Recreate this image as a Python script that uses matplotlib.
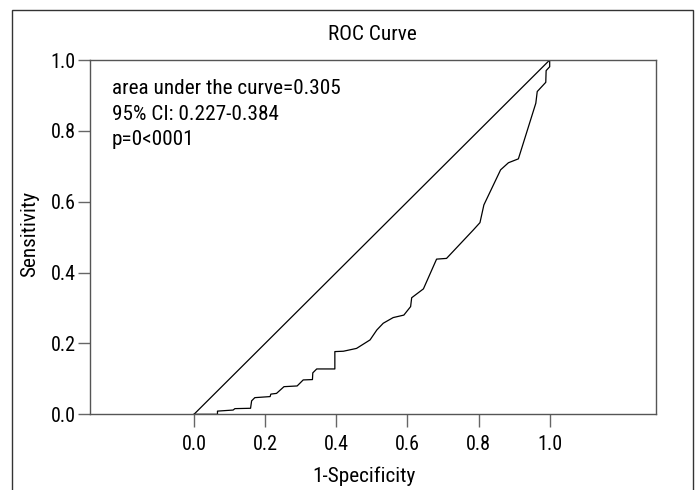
import matplotlib
matplotlib.use("Agg")
import matplotlib.pyplot as plt
from matplotlib.patches import Rectangle

plt.rcParams['font.family'] = ['Roboto Condensed', 'Archivo Narrow', 'DejaVu Sans']

# ROC curve data (1-specificity, sensitivity)
fpr = [0.0, 0.066, 0.066, 0.110, 0.115, 0.159, 0.162, 0.171, 0.214, 0.216, 0.232,
       0.253, 0.290, 0.307, 0.333, 0.334, 0.345, 0.396, 0.396, 0.420, 0.457,
       0.495, 0.514, 0.532, 0.560, 0.590, 0.609, 0.612, 0.645, 0.682, 0.710,
       0.785, 0.804, 0.815, 0.862, 0.884, 0.912, 0.961, 0.965, 0.989, 0.990,
       1.0, 1.0]
tpr = [0.0, 0.0, 0.009, 0.012, 0.016, 0.017, 0.038, 0.047, 0.050, 0.057, 0.059,
       0.078, 0.080, 0.097, 0.098, 0.117, 0.128, 0.128, 0.177, 0.178, 0.186,
       0.210, 0.238, 0.257, 0.273, 0.280, 0.304, 0.329, 0.354, 0.438, 0.440,
       0.520, 0.541, 0.591, 0.690, 0.710, 0.721, 0.878, 0.911, 0.937, 0.970,
       0.981, 1.0]
ref_x = [0.0, 1.0]
ref_y = [0.0, 1.0]
ticks = [0.0, 0.2, 0.4, 0.6, 0.8, 1.0]
tick_labels = ["0.0", "0.2", "0.4", "0.6", "0.8", "1.0"]
annot = ["area under the curve=0.305", "95% CI: 0.227-0.384", "p=0<0001"]

W, H = 696, 490
fig = plt.figure(figsize=(W / 100, H / 100), dpi=100)
ax = fig.add_axes([90 / W, (H - 414.3) / H, (656 - 90) / W, (414.3 - 60) / H])

ax.plot(ref_x, ref_y, color='black', lw=0.9)
ax.plot(fpr, tpr, color='black', lw=0.9)

ax.set_xlim(-0.2924, 1.2989)
ax.set_ylim(0, 1)
ax.set_xticks(ticks)
ax.set_xticklabels(tick_labels)
ax.set_yticks(ticks)
ax.set_yticklabels(tick_labels)
for s in ax.spines.values():
    s.set_color('#555555')
    s.set_linewidth(1.0)
ax.tick_params(direction='out', length=9, width=1.0, color='#666666',
               labelsize=14.5)
ax.tick_params(axis='x', pad=6)
ax.tick_params(axis='y', pad=1.5)

for i, t in enumerate(annot):
    fig.text(112 / W, 1 - (89 + 25 * i) / H, t, fontsize=15.3, va='center', ha='left')

fig.text(372 / W, 1 - 35 / H, "ROC Curve", fontsize=15.3, ha='center', va='center')
fig.text(364 / W, 1 - 476 / H, "1-Specificity", fontsize=15.3, ha='center', va='center')
fig.text(30 / W, 1 - 234 / H, "Sensitivity", fontsize=15.3, ha='center', va='center',
         rotation=90)

fig.patches.append(Rectangle((12 / W, -0.1), (693 - 12) / W, (H - 10) / H + 0.1,
                             transform=fig.transFigure, fill=False,
                             edgecolor='#333333', lw=1.0))

fig.savefig("out.png", dpi=100)
